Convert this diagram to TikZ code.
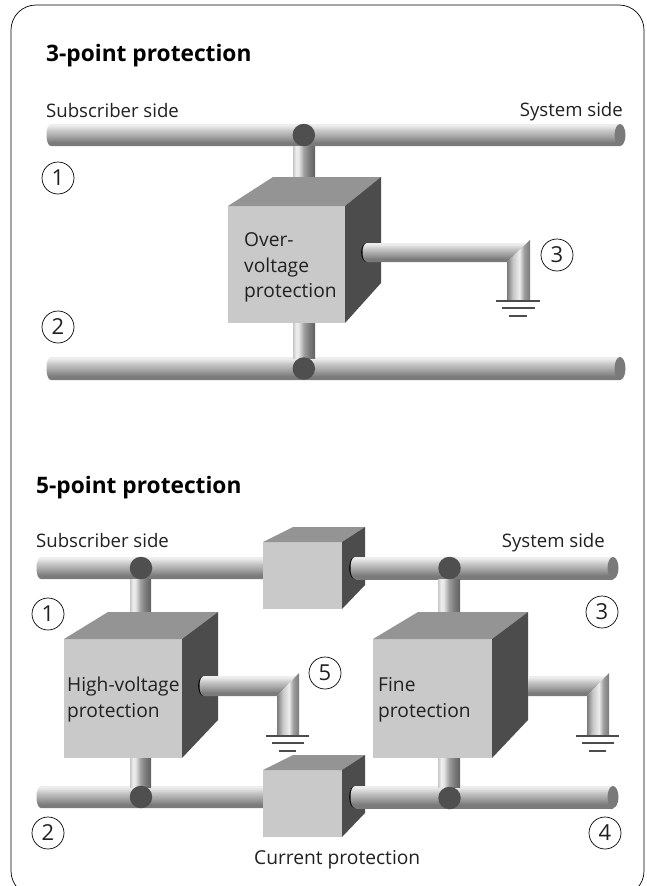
\documentclass[tikz,border=0pt]{standalone}
\usepackage{fontspec}
\setmainfont{Open Sans}
\definecolor{pa}{gray}{0.38}
\definecolor{pb}{gray}{0.48}
\definecolor{pc}{gray}{0.62}
\definecolor{pd}{gray}{0.78}
\definecolor{pe}{gray}{0.93}
\definecolor{pf}{gray}{0.9}
\definecolor{front}{gray}{0.79}
\definecolor{topf}{gray}{0.58}
\definecolor{side}{gray}{0.30}
\definecolor{joint}{gray}{0.31}
\definecolor{capc}{gray}{0.48}
\definecolor{inkc}{gray}{0.13}
\pgfdeclareverticalshading{pipeh}{100bp}{color(0bp)=(pb);color(25bp)=(pb);color(33bp)=(pb);color(45bp)=(pc);color(60bp)=(pd);color(72bp)=(pe);color(75bp)=(pe);color(100bp)=(pe)}
\pgfdeclarehorizontalshading{pipev}{100bp}{color(0bp)=(pd);color(25bp)=(pd);color(32bp)=(pe);color(38bp)=(pf);color(50bp)=(pc);color(62bp)=(pb);color(75bp)=(pa);color(100bp)=(pa)}
\pgfdeclarehorizontalshading{pipeg}{100bp}{color(0bp)=(pb);color(25bp)=(pb);color(38bp)=(pd);color(52bp)=(pe);color(62bp)=(pc);color(75bp)=(pb);color(100bp)=(pb)}
\tikzset{
 x=1pt,y=-1pt,
 label text/.style={font=\fontsize{18.6}{22}\selectfont,text=inkc,inner sep=0,anchor=base west,align=left},
 box text/.style={font=\fontsize{19.2}{23}\selectfont,text=inkc,inner sep=0,anchor=base west,align=left},
 title text/.style={font=\fontsize{22.7}{27}\selectfont\bfseries,text=black,inner sep=0,anchor=base west},
 mark num/.style={circle,draw=black,line width=0.7pt,minimum size=32pt,inner sep=0,font=\fontsize{22}{24}\selectfont,text=inkc},
 junction/.style={circle,fill=joint,minimum size=22.5pt,inner sep=0},
 gline/.style={draw=side,line width=2pt},
}
% x0 x1 ytop ybottom : pipe with a rounded left end and cap on the right
\newcommand{\pipeR}[4]{\shade[shading=pipeh] (#1+6,#3) -- (#2,#3) -- (#2,#4) -- (#1+6,#4) .. controls (#1,#4) and (#1,#3) .. (#1+6,#3) -- cycle;
 \fill[capc] ({#2},{(#3+#4)/2}) ellipse (5.5 and {(#4-#3)/2});}
\newcommand{\pipeL}[4]{\shade[shading=pipeh] (#1+6,#3) -- (#2,#3) -- (#2,#4) -- (#1+6,#4) .. controls (#1,#4) and (#1,#3) .. (#1+6,#3) -- cycle;}
% x0 x1 ytop ybottom vertical stub
\newcommand{\stub}[4]{\shade[shading=pipev] (#1,#3) rectangle (#2,#4);}
\newcommand{\stubring}[4]{\draw[black,line width=0.6pt] (#1-0.5,#4-2.5) .. controls (#1,#4+2.5) and (#2,#4+2.5) .. (#2+0.5,#4-2.5);
 \shade[shading=pipev] (#1,#3) -- (#2,#3) -- (#2,#4-2) .. controls (#2-3,#4+1.6) and (#1+3,#4+1.6) .. (#1,#4-2) -- cycle;}
% front-left, front-right, front-top, front-bottom, backleft, backright, backtop, backbottom
\newcommand{\cube}[8]{\fill[front] (#1,#3) rectangle (#2,#4);
 \fill[topf] (#1,#3) -- (#5,#7) -- (#6,#7) -- (#2,#3) -- cycle;
 \fill[side] (#2,#3) -- (#6,#7) -- (#6,#8) -- (#2,#4) -- cycle;}
% x0 of horizontal, x-left elbow, x-right elbow, ytop, ybottom, yend
\newcommand{\elbow}[6]{\shade[shading=pipeh] (#1,#4) -- (#3-3,#4) -- (#2,#5) -- (#1,#5) -- cycle;
 \shade[shading=pipeg] (#2,#5) -- (#3,#4-3) -- (#3,#6) -- (#2,#6) -- cycle;
 \draw[gline] (#2-11,#6+0.5) -- (#3+10,#6+0.5);
 \draw[gline] (#2-5,#6+8) -- (#3+5,#6+8);
 \draw[gline] (#2+2,#6+15.5) -- (#3-3,#6+15.5);}
% left rounded end of a side pipe, x, ytop, ybottom
\newcommand{\pipering}[3]{\fill[black] ({#1+5.5},{(#2+#3)/2}) ellipse (5.3 and {(#3-#2)/2});
 \shade[shading=pipeh] (#1+6,#2) -- (#1+12,#2) -- (#1+12,#3) -- (#1+6,#3) .. controls (#1,#3) and (#1,#2) .. (#1+6,#2) -- cycle;}
\begin{document}
\begin{tikzpicture}
\useasboundingbox (0,0) rectangle (646,886);
\fill[white] (0,0) rectangle (646,886);
\draw[black,line width=0.7pt,rounded corners=25pt] (11,5) -- (644,5) -- (644,896) -- (11,896) -- cycle;
\node[title text] (t3) at (46,61) {3-point protection};
\node[label text] (s1) at (46,117) {Subscriber side};
\node[label text,anchor=base east] (s2) at (623,116) {System side};
% 3-point
\pipeR{45}{620}{124}{146}
\pipeR{45}{620}{357}{380}
\stubring{293}{315}{146}{195}
\cube{228}{345}{206}{323}{273}{381}{177}{283}
\stub{293}{315}{323}{358}
\node[junction] (j1) at (303.8,135) {};
\node[junction] (j2) at (303.8,368.5) {};
\pipering{361}{243}{262}
\elbow{368}{507}{530}{243}{262}{300}
\node[mark num] (m1) at (58,178) {1};
\node[mark num] (m2) at (58,327) {2};
\node[mark num] (m3) at (557,255) {3};
\node[box text] (ov) at (244,246.5) {Over-};
\node[box text] (ov2) at (244,272) {voltage};
\node[box text] (ov3) at (244,297) {protection};
% 5-point
\node[title text] (t5) at (36,493) {5-point protection};
\node[label text] (s3) at (36,547) {Subscriber side};
\node[label text,anchor=base east] (s4) at (605,547) {System side};
\pipeL{35}{265}{557}{579}
\pipeL{35}{265}{786}{808}
\cube{263}{342}{542}{609}{293}{365}{527}{585}
\cube{263}{342}{770}{837}{293}{365}{755}{813}
\pipering{349}{557}{579}
\pipering{349}{786}{808}
\shade[shading=pipeh] (356,557) rectangle (613,579);
\fill[capc] (613,568) ellipse (5.5 and 11);
\shade[shading=pipeh] (356,786) rectangle (613,808);
\fill[capc] (613,797) ellipse (5.5 and 11);
\stubring{130}{151}{579}{628}
\stubring{438}{460}{579}{628}
\cube{64}{182}{639}{758}{108}{218}{612}{720}
\cube{373}{492}{639}{758}{418}{528}{612}{720}
\stub{130}{151}{758}{787}
\stub{438}{460}{758}{787}
\node[junction] (j3) at (141,568) {};
\node[junction] (j4) at (449.5,568) {};
\node[junction] (j5) at (141,797) {};
\node[junction] (j6) at (449.5,798) {};
\pipering{198}{676}{696}
\elbow{205}{277}{299}{676}{696}{735}
\elbow{528}{587}{609}{676}{696}{735}
\node[mark num] (m4) at (48,614) {1};
\node[mark num] (m5) at (48,833) {2};
\node[mark num] (m6) at (325,673) {5};
\node[mark num] (m7) at (602,612) {3};
\node[mark num] (m8) at (605,833) {4};
\node[box text] (hv) at (67,691) {High-voltage};
\node[box text] (hv2) at (67,717) {protection};
\node[box text] (fp) at (378,691) {Fine};
\node[box text] (fp2) at (378,717) {protection};
\node[box text] (cp) at (254,864) {Current protection};
\end{tikzpicture}
\end{document}
